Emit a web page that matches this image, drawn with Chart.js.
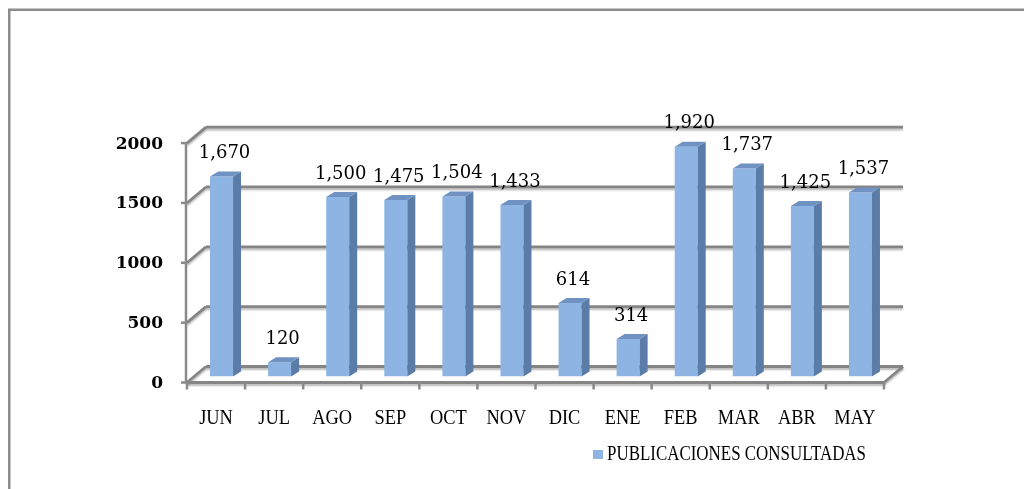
<!DOCTYPE html>
<html>
<head>
<meta charset="utf-8">
<script src="https://cdn.jsdelivr.net/npm/chart.js@4/dist/chart.umd.min.js"></script>
<style>
  html, body { margin: 0; padding: 0; background: #ffffff; }
  #wrap { width: 1024px; height: 489px; position: relative; }
</style>
</head>
<body>
<div id="wrap"><canvas id="c" width="1024" height="489"></canvas></div>
<script>
const categories = ['JUN', 'JUL', 'AGO', 'SEP', 'OCT', 'NOV', 'DIC', 'ENE', 'FEB', 'MAR', 'ABR', 'MAY'];
const values = [1670, 120, 1500, 1475, 1504, 1433, 614, 314, 1920, 1737, 1425, 1537];
const yTicks = [0, 500, 1000, 1500, 2000];
const seriesLabel = 'PUBLICACIONES CONSULTADAS';

// 3D plane offsets relative to the bar plane
const FX = -5.5, FY = 6;     // front plane
const BX = 13.5, BY = -10;   // back wall
const DX = 8, DY = 5;        // bar depth

function fmt(v) { return v.toLocaleString('en-US'); }

function drawText(ctx, text, x, y, font, align, sx) {
  ctx.save();
  ctx.font = font;
  ctx.textBaseline = 'middle';
  ctx.fillStyle = '#000';
  const w = ctx.measureText(text).width * sx;
  let x0 = x;
  if (align === 'center') x0 = x - w / 2;
  else if (align === 'right') x0 = x - w;
  ctx.translate(x0, y);
  ctx.scale(sx, 1);
  ctx.textAlign = 'left';
  ctx.fillText(text, 0, 0);
  ctx.restore();
}

function gridLine(ctx, x1, y1, x2, y2) {
  ctx.save();
  ctx.strokeStyle = '#858585';
  ctx.lineWidth = 2.8;
  ctx.shadowColor = 'rgba(0,0,0,0.28)';
  ctx.shadowOffsetY = 2;
  ctx.shadowOffsetX = 0;
  ctx.shadowBlur = 2;
  ctx.beginPath();
  ctx.moveTo(x1, y1);
  ctx.lineTo(x2, y2);
  ctx.stroke();
  ctx.restore();
}

const frame3d = {
  id: 'frame3d',
  beforeDraw(chart) {
    const ctx = chart.ctx;
    ctx.save();
    ctx.fillStyle = '#ffffff';
    ctx.fillRect(0, 0, chart.width, chart.height);
    ctx.strokeStyle = '#8c8c8c';
    ctx.lineWidth = 2.5;
    ctx.strokeRect(9.25, 9.75, 1040, 500);
    ctx.restore();
  },
  beforeDatasetsDraw(chart) {
    const ctx = chart.ctx;
    const xs = chart.scales.x, ys = chart.scales.y;
    const a = chart.chartArea;
    const left = a.left, right = a.right;
    const y0 = ys.getPixelForValue(0);
    const yTop = ys.getPixelForValue(yTicks[yTicks.length - 1]);

    yTicks.forEach(v => {
      const y = ys.getPixelForValue(v);
      gridLine(ctx, left + BX, y + BY, right + BX, y + BY);
    });
    yTicks.forEach(v => {
      const y = ys.getPixelForValue(v);
      gridLine(ctx, left + FX, y + FY, left + BX, y + BY);
    });
    gridLine(ctx, left + FX, y0 + FY, right + FX, y0 + FY);
    gridLine(ctx, right + FX, y0 + FY, right + BX, y0 + BY);

    ctx.save();
    ctx.strokeStyle = '#8a8a8a';
    ctx.lineWidth = 2.5;
    ctx.beginPath();
    ctx.moveTo(left + FX - 1, y0 + FY + 1);
    ctx.lineTo(left + FX - 1, yTop + FY);
    ctx.stroke();
    yTicks.forEach(v => {
      const y = ys.getPixelForValue(v) + FY;
      ctx.beginPath();
      ctx.moveTo(left + FX - 6, y);
      ctx.lineTo(left + FX, y);
      ctx.stroke();
    });
    const cw = xs.getPixelForValue(1) - xs.getPixelForValue(0);
    for (let i = 0; i <= categories.length; i++) {
      const x = xs.getPixelForValue(0) - cw / 2 + i * cw + FX;
      ctx.beginPath();
      ctx.moveTo(x, y0 + FY);
      ctx.lineTo(x, y0 + FY + 7);
      ctx.stroke();
    }
    ctx.restore();

    yTicks.forEach(v => {
      const y = ys.getPixelForValue(v) + FY + 1;
      drawText(ctx, String(v), 163, y, 'bold 17px "DejaVu Serif"', 'right', 1);
    });
    categories.forEach((c, i) => {
      const x = xs.getPixelForValue(i) + FX;
      drawText(ctx, c, x, 419, '20px "Liberation Serif"', 'center', 0.92);
    });
    ctx.save();
    ctx.fillStyle = '#8db4e3';
    ctx.fillRect(593, 450, 10, 9);
    ctx.restore();
    ctx.save();
    ctx.font = '20px "Liberation Serif"';
    const lw = ctx.measureText(seriesLabel).width;
    ctx.restore();
    drawText(ctx, seriesLabel, 607, 455, '20px "Liberation Serif"', 'left', 259 / lw);
  },
  afterDatasetsDraw(chart) {
    const ctx = chart.ctx;
    const meta = chart.getDatasetMeta(0);
    meta.data.forEach((bar, i) => {
      const p = bar.getProps(['x', 'y', 'base', 'width'], true);
      const l = p.x - p.width / 2, r = p.x + p.width / 2;
      ctx.save();
      ctx.fillStyle = '#5b7ca6';
      ctx.beginPath();
      ctx.moveTo(r, p.y);
      ctx.lineTo(r + DX, p.y - DY);
      ctx.lineTo(r + DX, p.base - DY);
      ctx.lineTo(r, p.base);
      ctx.closePath();
      ctx.fill();
      ctx.fillStyle = '#6f92c2';
      ctx.beginPath();
      ctx.moveTo(l, p.y);
      ctx.lineTo(l + DX, p.y - DY);
      ctx.lineTo(r + DX, p.y - DY);
      ctx.lineTo(r, p.y);
      ctx.closePath();
      ctx.fill();
      ctx.restore();
      drawText(ctx, fmt(values[i]), p.x + 3, p.y - 23, '18px "DejaVu Serif"', 'center', 1);
    });
  }
};

new Chart(document.getElementById('c'), {
  type: 'bar',
  data: {
    labels: categories,
    datasets: [{
      label: seriesLabel,
      data: values,
      backgroundColor: '#8db4e3',
      borderWidth: 0,
      barPercentage: 0.396,
      categoryPercentage: 1
    }]
  },
  options: {
    responsive: false,
    animation: false,
    devicePixelRatio: 1,
    layout: { padding: { left: 192.5, right: 134.5, top: 137.1, bottom: 112.5 } },
    plugins: { legend: { display: false }, tooltip: { enabled: false } },
    scales: {
      x: { display: false, offset: true, grid: { display: false } },
      y: { display: false, min: 0, max: 2000, grid: { display: false } }
    }
  },
  plugins: [frame3d]
});
</script>
</body>
</html>
